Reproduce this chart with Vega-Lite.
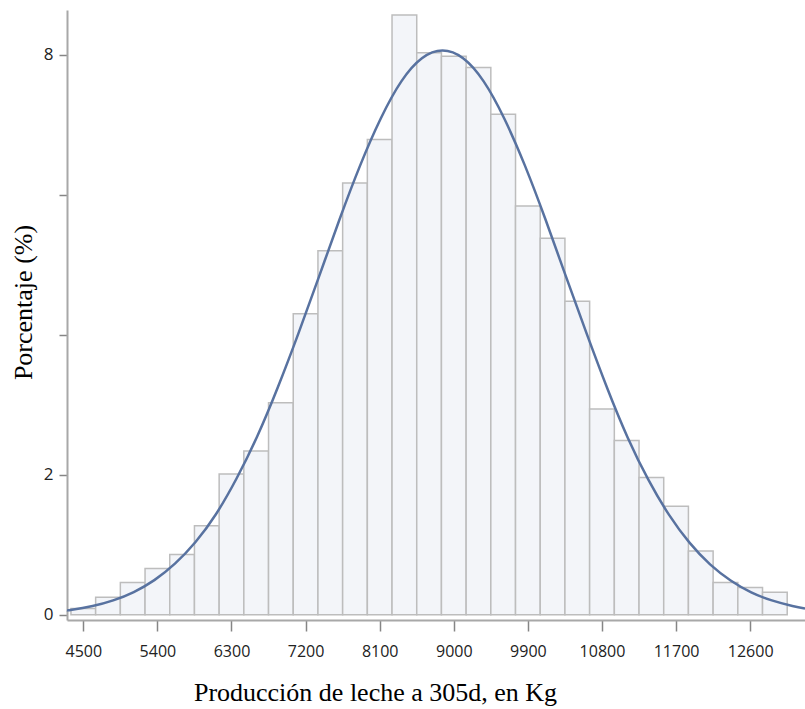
{
  "$schema": "https://vega.github.io/schema/vega-lite/v6.json",
  "width": 738,
  "height": 610,
  "autosize": {"type": "none"},
  "padding": {"left": 67, "top": 10, "right": 0, "bottom": 89},
  "background": "white",
  "config": {
    "view": {"stroke": null}
  },
  "datasets": {
    "bars": [
      {"bin_start": 4350, "bin_end": 4650, "pct": 0.09},
      {"bin_start": 4650, "bin_end": 4950, "pct": 0.25},
      {"bin_start": 4950, "bin_end": 5250, "pct": 0.46},
      {"bin_start": 5250, "bin_end": 5550, "pct": 0.66},
      {"bin_start": 5550, "bin_end": 5850, "pct": 0.86},
      {"bin_start": 5850, "bin_end": 6150, "pct": 1.27},
      {"bin_start": 6150, "bin_end": 6450, "pct": 2.01},
      {"bin_start": 6450, "bin_end": 6750, "pct": 2.34},
      {"bin_start": 6750, "bin_end": 7050, "pct": 3.03},
      {"bin_start": 7050, "bin_end": 7350, "pct": 4.30},
      {"bin_start": 7350, "bin_end": 7650, "pct": 5.20},
      {"bin_start": 7650, "bin_end": 7950, "pct": 6.17},
      {"bin_start": 7950, "bin_end": 8250, "pct": 6.79},
      {"bin_start": 8250, "bin_end": 8550, "pct": 8.57},
      {"bin_start": 8550, "bin_end": 8850, "pct": 8.03},
      {"bin_start": 8850, "bin_end": 9150, "pct": 7.98},
      {"bin_start": 9150, "bin_end": 9450, "pct": 7.82},
      {"bin_start": 9450, "bin_end": 9750, "pct": 7.15},
      {"bin_start": 9750, "bin_end": 10050, "pct": 5.84},
      {"bin_start": 10050, "bin_end": 10350, "pct": 5.38},
      {"bin_start": 10350, "bin_end": 10650, "pct": 4.48},
      {"bin_start": 10650, "bin_end": 10950, "pct": 2.94},
      {"bin_start": 10950, "bin_end": 11250, "pct": 2.49},
      {"bin_start": 11250, "bin_end": 11550, "pct": 1.96},
      {"bin_start": 11550, "bin_end": 11850, "pct": 1.55},
      {"bin_start": 11850, "bin_end": 12150, "pct": 0.91},
      {"bin_start": 12150, "bin_end": 12450, "pct": 0.46},
      {"bin_start": 12450, "bin_end": 12750, "pct": 0.39},
      {"bin_start": 12750, "bin_end": 13050, "pct": 0.32}
    ],
    "curve": [
      {"kg": 4302, "pct": 0.065},
      {"kg": 4363, "pct": 0.072},
      {"kg": 4613, "pct": 0.125},
      {"kg": 4863, "pct": 0.205},
      {"kg": 5113, "pct": 0.325},
      {"kg": 5363, "pct": 0.495},
      {"kg": 5613, "pct": 0.73},
      {"kg": 5863, "pct": 1.04},
      {"kg": 6113, "pct": 1.44},
      {"kg": 6363, "pct": 1.95},
      {"kg": 6613, "pct": 2.55},
      {"kg": 6863, "pct": 3.25},
      {"kg": 7113, "pct": 4.02},
      {"kg": 7363, "pct": 4.83},
      {"kg": 7613, "pct": 5.65},
      {"kg": 7863, "pct": 6.42},
      {"kg": 8113, "pct": 7.09},
      {"kg": 8363, "pct": 7.62},
      {"kg": 8613, "pct": 7.95},
      {"kg": 8863, "pct": 8.06},
      {"kg": 9113, "pct": 7.95},
      {"kg": 9363, "pct": 7.62},
      {"kg": 9613, "pct": 7.09},
      {"kg": 9863, "pct": 6.42},
      {"kg": 10113, "pct": 5.65},
      {"kg": 10363, "pct": 4.83},
      {"kg": 10613, "pct": 4.02},
      {"kg": 10863, "pct": 3.24},
      {"kg": 11113, "pct": 2.53},
      {"kg": 11363, "pct": 1.93},
      {"kg": 11613, "pct": 1.43},
      {"kg": 11863, "pct": 1.03},
      {"kg": 12113, "pct": 0.72},
      {"kg": 12363, "pct": 0.49},
      {"kg": 12613, "pct": 0.32},
      {"kg": 12863, "pct": 0.205},
      {"kg": 13113, "pct": 0.125},
      {"kg": 13266, "pct": 0.088}
    ]
  },
  "layer": [
    {
      "data": {"name": "bars"},
      "mark": {"type": "rect", "fill": "#f3f5f9", "stroke": "#bdbdbd", "strokeWidth": 1.5},
      "encoding": {
        "x": {
          "field": "bin_start",
          "type": "quantitative",
          "scale": {"domain": [4302, 13266], "nice": false, "zero": false},
          "axis": {
            "values": [4500, 5400, 6300, 7200, 8100, 9000, 9900, 10800, 11700, 12600],
            "format": "d",
            "grid": false,
            "labelFont": "Open Sans",
            "labelFontSize": 16,
            "labelColor": "#222222",
            "tickColor": "#858585",
            "tickWidth": 1.5,
            "tickSize": 11,
            "domainColor": "#a8a8a8",
            "domainWidth": 2,
            "labelPadding": 12,
            "title": "Producción de leche a 305d, en Kg",
            "titleFont": "Liberation Serif",
            "titleFontSize": 26,
            "titleFontWeight": "normal",
            "titleColor": "#000000",
            "titleX": 308,
            "titleY": 80,
            "titleAlign": "center",
            "titleBaseline": "alphabetic"
          }
        },
        "x2": {"field": "bin_end"},
        "y": {
          "field": "pct",
          "type": "quantitative",
          "scale": {"domain": [-0.075, 8.64], "nice": false, "zero": false},
          "axis": {
            "values": [0, 2, 4, 6, 8],
            "format": "d",
            "labelExpr": "datum.value == 4 || datum.value == 6 ? '' : datum.label",
            "grid": false,
            "labelFont": "Open Sans",
            "labelFontSize": 17,
            "labelColor": "#222222",
            "tickColor": "#858585",
            "tickWidth": 1.5,
            "tickSize": 8,
            "domainColor": "#a8a8a8",
            "domainWidth": 2,
            "labelPadding": 6,
            "title": "Porcentaje (%)",
            "titleFont": "Liberation Serif",
            "titleFontSize": 26,
            "titleFontWeight": "normal",
            "titleColor": "#000000",
            "titleX": -36,
            "titleY": 292,
            "titleAngle": -90,
            "titleAlign": "center",
            "titleBaseline": "alphabetic"
          }
        },
        "y2": {"datum": 0}
      }
    },
    {
      "data": {"name": "curve"},
      "mark": {"type": "line", "interpolate": "natural", "color": "#5872a0", "strokeWidth": 2.5},
      "encoding": {
        "x": {"field": "kg", "type": "quantitative"},
        "y": {"field": "pct", "type": "quantitative"}
      }
    },
    {
      "mark": {"type": "rule", "color": "#a8a8a8", "strokeWidth": 2},
      "encoding": {"y": {"datum": 8.64}}
    }
  ]
}
